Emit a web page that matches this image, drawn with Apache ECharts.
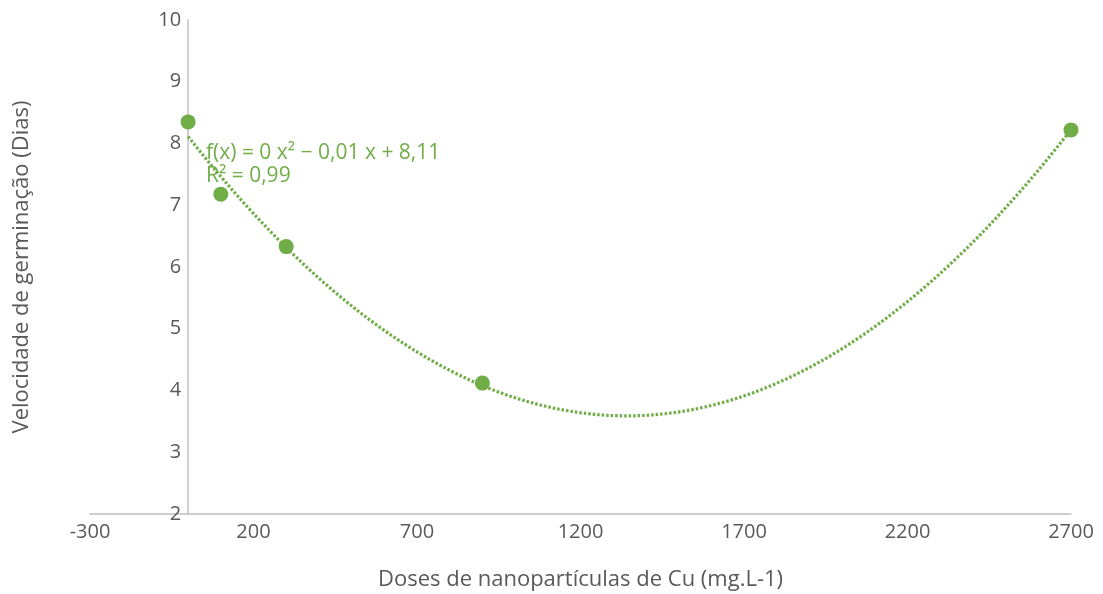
<!DOCTYPE html>
<html><head><meta charset="utf-8">
<script src="https://cdn.jsdelivr.net/npm/echarts@6/dist/echarts.min.js"></script>
<style>html,body{margin:0;padding:0;background:#fff}#c{width:1103px;height:594px}</style>
</head><body><div id="c"></div>
<script>
const doses = [0, 100, 300, 900, 2700];
const velocidade = [8.35, 7.18, 6.33, 4.12, 8.22];
const xTicks = [-300, 200, 700, 1200, 1700, 2200, 2700];
const yTicks = [2, 3, 4, 5, 6, 7, 8, 9, 10];
const trendLabel = ['f(x) = 0 x² − 0,01 x + 8,11', 'R² = 0,99'];

// least-squares quadratic trendline from the data (as the spreadsheet does)
function polyFit2(xs, ys) {
  const n = xs.length;
  let S = [0,0,0,0,0], T = [0,0,0];
  for (let i = 0; i < n; i++) {
    let p = 1;
    for (let k = 0; k < 5; k++) { S[k] += p; if (k < 3) T[k] += p * ys[i]; p *= xs[i]; }
  }
  const A = [[S[0],S[1],S[2],T[0]],[S[1],S[2],S[3],T[1]],[S[2],S[3],S[4],T[2]]];
  for (let i = 0; i < 3; i++) {
    for (let j = i + 1; j < 3; j++) {
      const f = A[j][i] / A[i][i];
      for (let k = i; k < 4; k++) A[j][k] -= f * A[i][k];
    }
  }
  const c = [0,0,0];
  for (let i = 2; i >= 0; i--) {
    let s = A[i][3];
    for (let k = i + 1; k < 3; k++) s -= A[i][k] * c[k];
    c[i] = s / A[i][i];
  }
  return c; // c0 + c1 x + c2 x^2
}
const coef = polyFit2(doses, velocidade);
const xmin = Math.min(...doses), xmax = Math.max(...doses);
const trend = [];
for (let i = 0; i <= 200; i++) {
  const x = xmin + (xmax - xmin) * i / 200;
  trend.push([x, coef[0] + coef[1] * x + coef[2] * x * x]);
}

const green = '#70AD47';
const grey = '#595959';
const FONT = 'Open Sans';
const GRID_LEFT = 90;
const chart = echarts.init(document.getElementById('c'));
chart.setOption({
  animation: false,
  grid: { left: GRID_LEFT, right: 32, top: 20, bottom: 80, containLabel: false, outerBoundsMode: 'none' },
  xAxis: {
    type: 'value', min: xTicks[0], max: xTicks[xTicks.length - 1], interval: 500,
    splitLine: { show: false }, axisTick: { show: false },
    axisLine: { lineStyle: { color: '#BFBFBF', width: 1.5 } },
    axisLabel: { color: grey, fontSize: 20, fontFamily: FONT, margin: 8, formatter: v => String(v) },
    name: 'Doses de nanopartículas de Cu (mg.L-1)', nameLocation: 'middle', nameGap: 55,
    nameTextStyle: { color: grey, fontSize: 22, fontFamily: FONT }
  },
  yAxis: {
    type: 'value', min: yTicks[0], max: yTicks[yTicks.length - 1], interval: 1,
    splitLine: { show: false }, axisTick: { show: false },
    axisLine: { show: true, onZero: true, lineStyle: { color: '#BFBFBF', width: 1.5 } },
    axisLabel: { color: grey, fontSize: 20, fontFamily: FONT, margin: 7, formatter: v => String(v) },
    name: 'Velocidade de germinação (Dias)', nameLocation: 'middle', nameGap: 57,
    nameTextStyle: { color: grey, fontSize: 22, fontFamily: FONT }
  },
  series: [
    {
      type: 'line', data: trend, showSymbol: false, smooth: false, z: 2,
      lineStyle: { color: green, width: 3.2, type: [2.5, 2] }
    },
    {
      type: 'scatter', data: doses.map((x, i) => [x, velocidade[i]]),
      symbol: 'circle', symbolSize: 15, z: 3,
      itemStyle: { color: green, opacity: 1 }
    }
  ],
  graphic: [
    { type: 'text', left: 206, top: 142, z: 10,
      style: { text: trendLabel.join('\n'), fill: green, font: '21px "Open Sans"', lineHeight: 23 } }
  ]
});
// y tick labels sit beside the axis line drawn at x = 0
const px0 = chart.convertToPixel({ xAxisIndex: 0 }, 0);
chart.setOption({ yAxis: { axisLabel: { margin: 7 - (px0 - GRID_LEFT) } } });
</script></body></html>
